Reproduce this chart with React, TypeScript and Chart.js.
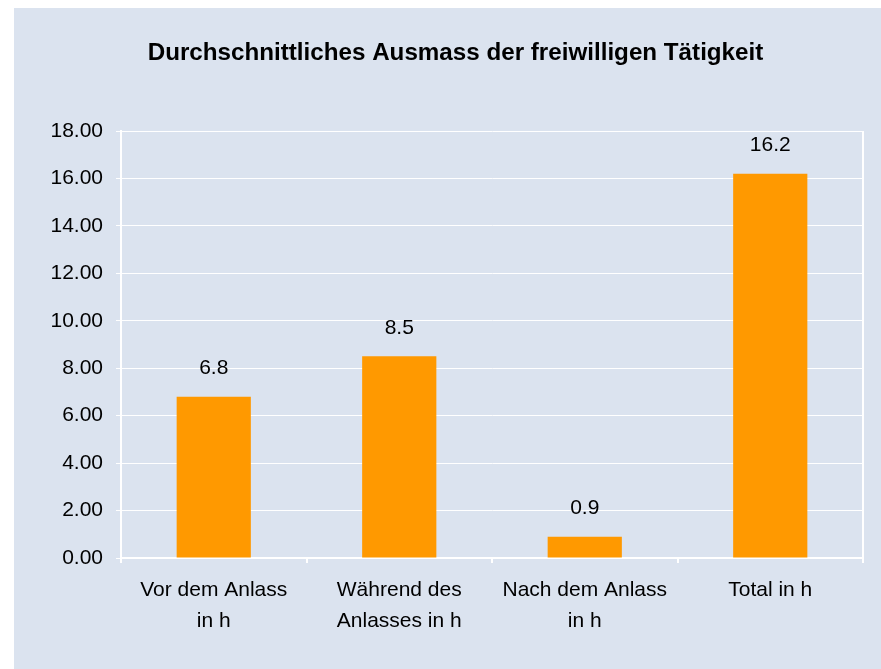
import React, { useEffect, useRef } from "react";
import { Chart, registerables } from "chart.js";

Chart.register(...registerables);

const TITLE = "Durchschnittliches Ausmass der freiwilligen Tätigkeit";
const CATEGORIES: string[][] = [
  ["Vor dem Anlass", "in h"],
  ["Während des", "Anlasses in h"],
  ["Nach dem Anlass", "in h"],
  ["Total in h"],
];
const VALUES: number[] = [6.8, 8.5, 0.9, 16.2];
const Y_MIN = 0;
const Y_MAX = 18;
const Y_STEP = 2;

const BG = "#DBE3EF";
const BAR = "#FF9900";
const FONT = "'Liberation Sans', Arial, Helvetica, sans-serif";

export default function App() {
  const ref = useRef<HTMLCanvasElement | null>(null);

  useEffect(() => {
    if (!ref.current) return;
    const labelPlugin = {
      id: "valueLabels",
      afterDatasetsDraw(chart: any) {
        const ctx = chart.ctx;
        const meta = chart.getDatasetMeta(0);
        ctx.save();
        ctx.fillStyle = "#000";
        ctx.font = `21px ${FONT}`;
        ctx.textAlign = "center";
        ctx.textBaseline = "middle";
        meta.data.forEach((el: any, i: number) => {
          ctx.fillText(VALUES[i].toFixed(1), el.x, el.y - 28);
        });
        ctx.restore();
      },
    };
    const titlePlugin = {
      id: "customTitle",
      afterDraw(chart: any) {
        const ctx = chart.ctx;
        ctx.save();
        ctx.fillStyle = "#000";
        ctx.font = `bold 24.2px ${FONT}`;
        ctx.textAlign = "center";
        ctx.textBaseline = "middle";
        ctx.fillText(TITLE, 441.5, 45);
        ctx.restore();
      },
    };
    const borderPlugin = {
      id: "rightBorder",
      beforeDatasetsDraw(chart: any) {
        const { ctx, chartArea } = chart;
        ctx.save();
        ctx.strokeStyle = "#FFFFFF";
        ctx.lineWidth = 2;
        ctx.beginPath();
        ctx.moveTo(chartArea.right, chartArea.top);
        ctx.lineTo(chartArea.right, chartArea.bottom + 5);
        ctx.stroke();
        ctx.restore();
      },
    };
    const chart = new Chart(ref.current, {
      type: "bar",
      data: {
        labels: CATEGORIES,
        datasets: [
          {
            data: VALUES,
            backgroundColor: BAR,
            borderWidth: 0,
            barPercentage: 0.4,
            categoryPercentage: 1,
          },
        ],
      },
      options: {
        animation: false,
        responsive: false,
        maintainAspectRatio: false,
        layout: { padding: { left: 0, right: 18, top: 123, bottom: 0 } },
        plugins: {
          legend: { display: false },
          tooltip: { enabled: false },
          title: { display: false },
        },
        scales: {
          x: {
            offset: true,
            grid: {
              offset: true,
              drawOnChartArea: false,
              color: "#FFFFFF",
              lineWidth: 2,
              tickLength: 5,
            },
            border: { color: "#FFFFFF", width: 2 },
            ticks: {
              color: "#000",
              font: { family: FONT, size: 21, lineHeight: 1.476 },
              padding: 12,
              maxRotation: 0,
              autoSkip: false,
            },
            afterFit(scale: any) {
              scale.height = 111;
            },
          },
          y: {
            min: Y_MIN,
            max: Y_MAX,
            grid: { color: "#FFFFFF", lineWidth: 1, tickLength: 5 },
            border: { color: "#FFFFFF", width: 2 },
            ticks: {
              stepSize: Y_STEP,
              color: "#000",
              font: { family: FONT, size: 21 },
              padding: 13,
              callback: (v: any) => Number(v).toFixed(2),
            },
            afterFit(scale: any) {
              scale.width = 107;
            },
          },
        },
      },
      plugins: [labelPlugin, borderPlugin, titlePlugin],
    } as any);
    return () => chart.destroy();
  }, []);

  return (
    <div
      style={{
        position: "fixed",
        left: 14,
        top: 8,
        width: 867,
        height: 661,
        background: BG,
      }}
    >
      <canvas ref={ref} width={867} height={661} style={{ display: "block" }} />
    </div>
  );
}
